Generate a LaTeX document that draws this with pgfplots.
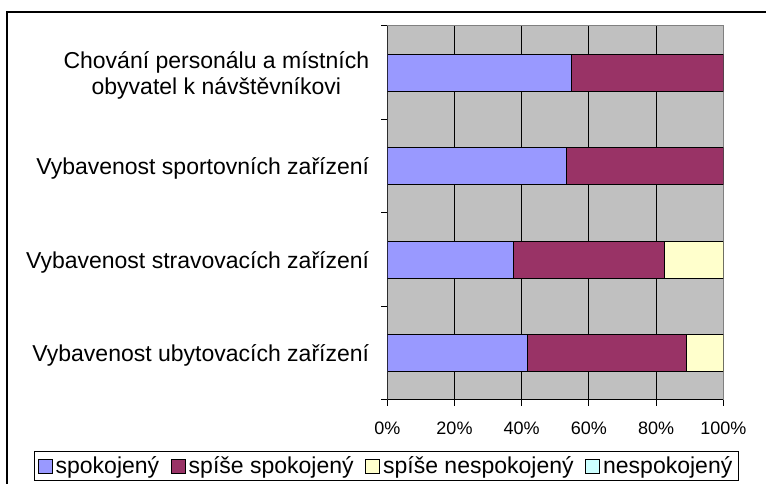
\documentclass[border=0pt]{standalone}
\usepackage{fontspec}
\setmainfont{Liberation Sans}
\usepackage{pgfplots}
\pgfplotsset{compat=1.18}
\definecolor{c1}{HTML}{9999FF}
\definecolor{c2}{HTML}{993366}
\definecolor{c3}{HTML}{FFFFCC}
\definecolor{c4}{HTML}{CCFFFF}
\definecolor{plotbg}{HTML}{C0C0C0}
\definecolor{edge}{HTML}{808080}
\pgfplotsset{sq legend/.style={legend image code/.code={\draw[##1, draw=black, line width=1pt] (0pt,-7pt) rectangle (14pt,7pt);}}}
\begin{document}
\begin{tikzpicture}
\useasboundingbox (0,0) rectangle (766pt,484pt);
\draw[line width=2pt] (6.5pt,-5pt) -- (6.5pt,472pt) -- (770pt,472pt);
\begin{axis}[
  at={(387.3pt,84pt)}, anchor=south west,
  width=336pt, height=374pt, scale only axis,
  xbar stacked, bar width=0.4,
  xmin=0, xmax=100, ymin=0.5, ymax=4.5,
  axis background/.style={fill=plotbg},
  axis line style={draw=edge, line width=1pt},
  tick align=outside,
  xtick pos=bottom, ytick pos=left,
  every tick/.style={black, line width=1pt},
  xtick={0,20,40,60,80,100},
  xticklabels={0\%,20\%,40\%,60\%,80\%,100\%},
  xticklabel style={font=\fontsize{18}{21}\selectfont, inner sep=0pt, anchor=north, yshift=-16pt},
  xmajorgrids, major grid style={black, line width=1pt},
  ytick={0.5,1.5,2.5,3.5,4.5}, yticklabels={},
  major tick length=6pt,
  extra y ticks={1,2,3,4},
  extra y tick labels={Vybavenost ubytovacích zařízení, Vybavenost stravovacích zařízení, Vybavenost sportovních zařízení, {Chování personálu a místních\\obyvatel k návštěvníkovi}},
  extra y tick style={major tick length=0pt, yticklabel style={font=\fontsize{23}{26}\selectfont, align=center, anchor=east, inner sep=0pt, xshift=-18pt, yshift=-2.5pt}},
  legend columns=-1,
  legend style={at={(-0.0024,-0.1765)}, anchor=center, draw=black, line width=1pt,
    font=\fontsize{23}{26}\selectfont, inner xsep=3pt, inner ysep=3pt,
    /tikz/every even column/.append style={column sep=8.5pt},
    nodes={inner xsep=3pt, inner ysep=2pt}},
]
\addplot[fill=c1, draw=black, line width=1pt, sq legend] coordinates {(41.8,1) (37.6,2) (53.4,3) (54.8,4)};
\addplot[fill=c2, draw=black, line width=1pt, sq legend] coordinates {(47.2,1) (45.0,2) (46.6,3) (45.2,4)};
\addplot[fill=c3, draw=black, line width=1pt, sq legend] coordinates {(11.0,1) (17.4,2) (0,3) (0,4)};
\addplot[fill=c4, draw=black, line width=1pt, sq legend] coordinates {(0,1) (0,2) (0,3) (0,4)};
\legend{spokojený, spíše spokojený, spíše nespokojený, nespokojený}
\draw[black, line width=1pt] (rel axis cs:0,1) -- (rel axis cs:0,0) -- (rel axis cs:1,0);
\end{axis}
\end{tikzpicture}
\end{document}
